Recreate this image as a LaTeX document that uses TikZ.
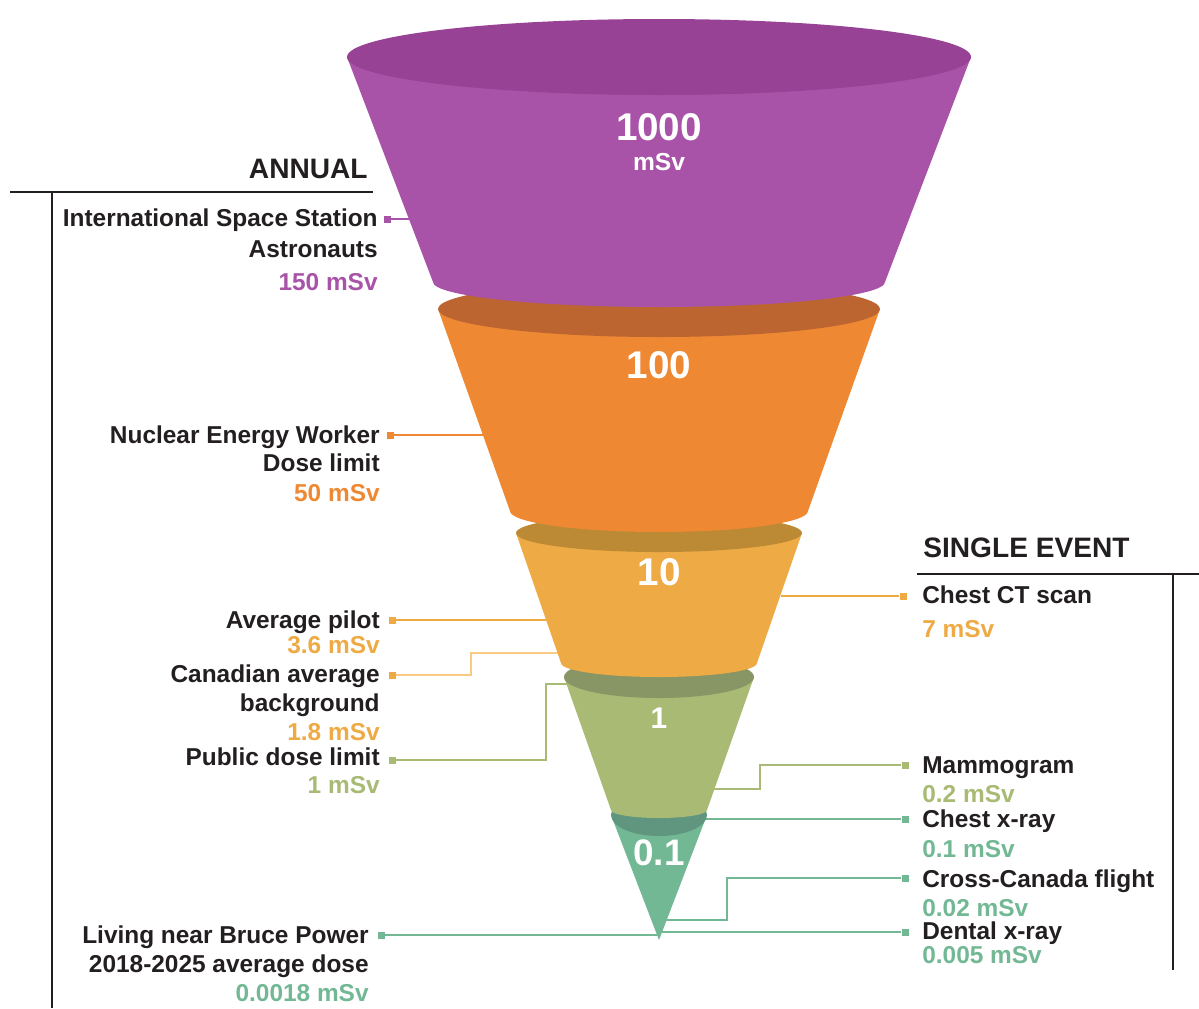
\documentclass[tikz,border=0pt]{standalone}
\usepackage{fontspec}
\setmainfont{Liberation Sans}
\usetikzlibrary{positioning, calc}
\definecolor{cInk}{RGB}{35,31,32}
\definecolor{cPurple}{RGB}{168,83,168}
\definecolor{cPurpleTop}{RGB}{151,66,149}
\definecolor{cOrange}{RGB}{238,136,51}
\definecolor{cOrangeTop}{RGB}{188,101,49}
\definecolor{cYellow}{RGB}{238,170,68}
\definecolor{cYellowTop}{RGB}{188,138,53}
\definecolor{cYellowLight}{RGB}{248,202,130}
\definecolor{cGreen}{RGB}{168,186,116}
\definecolor{cGreenTop}{RGB}{135,150,100}
\definecolor{cTeal}{RGB}{114,184,148}
\definecolor{cTealTop}{RGB}{96,150,128}
\tikzset{
    lbl/.style   ={font=\fontsize{13.9}{16}\selectfont\bfseries, text=cInk, inner sep=0pt},
    lblL/.style  ={lbl, anchor=base east},
    lblR/.style  ={lbl, anchor=base west},
    head/.style  ={font=\fontsize{16}{19}\selectfont\bfseries, text=cInk, inner sep=0pt},
    level/.style ={font=\fontsize{22}{26}\selectfont\bfseries, text=white, inner sep=0pt, anchor=base},
    dot/.style   ={rectangle, fill=#1, minimum size=0.14cm, inner sep=0pt},
    link/.style  ={draw=#1, line width=0.8pt},
    rule/.style  ={draw=cInk, line width=1.4pt},
}
% body colour, top colour, top cy, top rx, top ry, bottom cy, bottom rx, bottom ry
\newcommand{\funnelpart}[8]{%
    \fill[#1] (659-#4,#3) -- (659-#7,#6) -- (659+#7,#6) -- (659+#4,#3) -- cycle;
    \fill[#1] (659,#6) ellipse [x radius=#7, y radius=#8];
    \fill[#2] (659,#3) ellipse [x radius=#4, y radius=#5];
}

\begin{document}
\begin{tikzpicture}[x=0.02cm, y=-0.02cm]
    \useasboundingbox (0,0) rectangle (1199,1008);

    % headers and rules
    \node[head, anchor=base east] (annual) at (368,178) {ANNUAL};
    \node[head, anchor=base west] (single) at (923,557) {SINGLE EVENT};
    \draw[rule] (10,192) -- (373,192);
    \draw[rule] (52,192) -- (52,1008);
    \draw[rule] (917,574) -- (1199,574);
    \draw[rule] (1173,574) -- (1173,970);

    % markers
    \node[dot=cPurple] (mIss)    at (387,219) {};
    \node[dot=cOrange] (mNuc)    at (390,435) {};
    \node[dot=cYellow] (mPilot)  at (392,620) {};
    \node[dot=cYellow] (mCan)    at (392,675) {};
    \node[dot=cGreen]  (mPub)    at (392,760) {};
    \node[dot=cTeal]   (mBruce)  at (381,935) {};
    \node[dot=cYellow] (mCt)     at (903,596) {};
    \node[dot=cGreen]  (mMammo)  at (905,765) {};
    \node[dot=cTeal]   (mXray)   at (905,819) {};
    \node[dot=cTeal]   (mFlight) at (905,878) {};
    \node[dot=cTeal]   (mDental) at (905,932) {};

    % points on the funnel
    \coordinate (eIss)    at (410,219);
    \coordinate (eNuc)    at (484,435);
    \coordinate (ePilot)  at (548,620);
    \coordinate (eCan)    at (559,653);
    \coordinate (ePub)    at (569,684);
    \coordinate (eBruce)  at (658,935);
    \coordinate (eCt)     at (781,596);
    \coordinate (eMammo)  at (713,789);
    \coordinate (eXray)   at (705,819);
    \coordinate (eFlight) at (666,920);
    \coordinate (eDental) at (660,932);

    % connectors
    \draw[link=cPurple] (mIss) -- (eIss);
    \draw[link=cOrange] (mNuc) -- (eNuc);
    \draw[link=cYellow] (mPilot) -- (ePilot);
    \draw[link=cYellowLight] (mCan) -| (471,653) -- (eCan);
    \draw[link=cGreen] (mPub) -| (546,684) -- (ePub);
    \draw[link=cTeal] (mBruce) -- (eBruce);
    \draw[link=cYellow] (mCt) -- (eCt);
    \draw[link=cGreen] (mMammo) -| (760,789) -- (eMammo);
    \draw[link=cTeal] (mXray) -- (eXray);
    \draw[link=cTeal] (mFlight) -| (727,920) -- (eFlight);
    \draw[link=cTeal] (mDental) -- (eDental);

    % funnel, from the tip up
    \fill[cTeal] (611,815) -- (659,940) -- (707,815) -- cycle;
    \fill[cTealTop] (659,815) ellipse [x radius=48, y radius=21];
    \funnelpart{cGreen}{cGreenTop}{677}{95}{21}{810}{48}{8}
    \funnelpart{cYellow}{cYellowTop}{533}{143}{19}{663}{98}{14}
    \funnelpart{cOrange}{cOrangeTop}{309}{221}{28}{511}{149}{21}
    \funnelpart{cPurple}{cPurpleTop}{57}{312}{38}{282}{226}{25}

    % levels
    \node[level] (l1000) at (659,140) {1000};
    \node[level, font=\fontsize{14}{16}\selectfont\bfseries] (lUnit) at (659,170) {mSv};
    \node[level] (l100) at (659,378) {100};
    \node[level] (l10) at (659,585) {10};
    \node[level, font=\fontsize{17}{20}\selectfont\bfseries] (l1) at (659,728) {1};
    \node[level, font=\fontsize{21}{24}\selectfont\bfseries] (l01) at (659,865) {0.1};

    % annual labels
    \node[lblL] (tIss1) at (378,226) {International Space Station};
    \node[lblL] (tIss2) at (378,257) {Astronauts};
    \node[lblL, text=cPurple] (tIss3) at (378,290) {150 mSv};
    \node[lblL] (tNuc1) at (380,443) {Nuclear Energy Worker};
    \node[lblL] (tNuc2) at (380,471) {Dose limit};
    \node[lblL, text=cOrange] (tNuc3) at (380,501) {50 mSv};
    \node[lblL] (tPilot1) at (380,628) {Average pilot};
    \node[lblL, text=cYellow] (tPilot2) at (380,653) {3.6 mSv};
    \node[lblL] (tCan1) at (380,682) {Canadian average};
    \node[lblL] (tCan2) at (380,711) {background};
    \node[lblL, text=cYellow] (tCan3) at (380,740) {1.8 mSv};
    \node[lblL] (tPub1) at (380,765) {Public dose limit};
    \node[lblL, text=cGreen] (tPub2) at (380,793) {1 mSv};
    \node[lblL] (tBruce1) at (369,943) {Living near Bruce Power};
    \node[lblL] (tBruce2) at (369,972) {2018-2025 average dose};
    \node[lblL, text=cTeal] (tBruce3) at (369,1001) {0.0018 mSv};

    % single event labels
    \node[lblR] (tCt1) at (922,603) {Chest CT scan};
    \node[lblR, text=cYellow] (tCt2) at (922,637) {7 mSv};
    \node[lblR] (tMammo1) at (922,773) {Mammogram};
    \node[lblR, text=cGreen] (tMammo2) at (922,802) {0.2 mSv};
    \node[lblR] (tXray1) at (922,827) {Chest x-ray};
    \node[lblR, text=cTeal] (tXray2) at (922,857) {0.1 mSv};
    \node[lblR] (tFlight1) at (922,887) {Cross-Canada flight};
    \node[lblR, text=cTeal] (tFlight2) at (922,916) {0.02 mSv};
    \node[lblR] (tDental1) at (922,939) {Dental x-ray};
    \node[lblR, text=cTeal] (tDental2) at (922,963) {0.005 mSv};
\end{tikzpicture}
\end{document}
